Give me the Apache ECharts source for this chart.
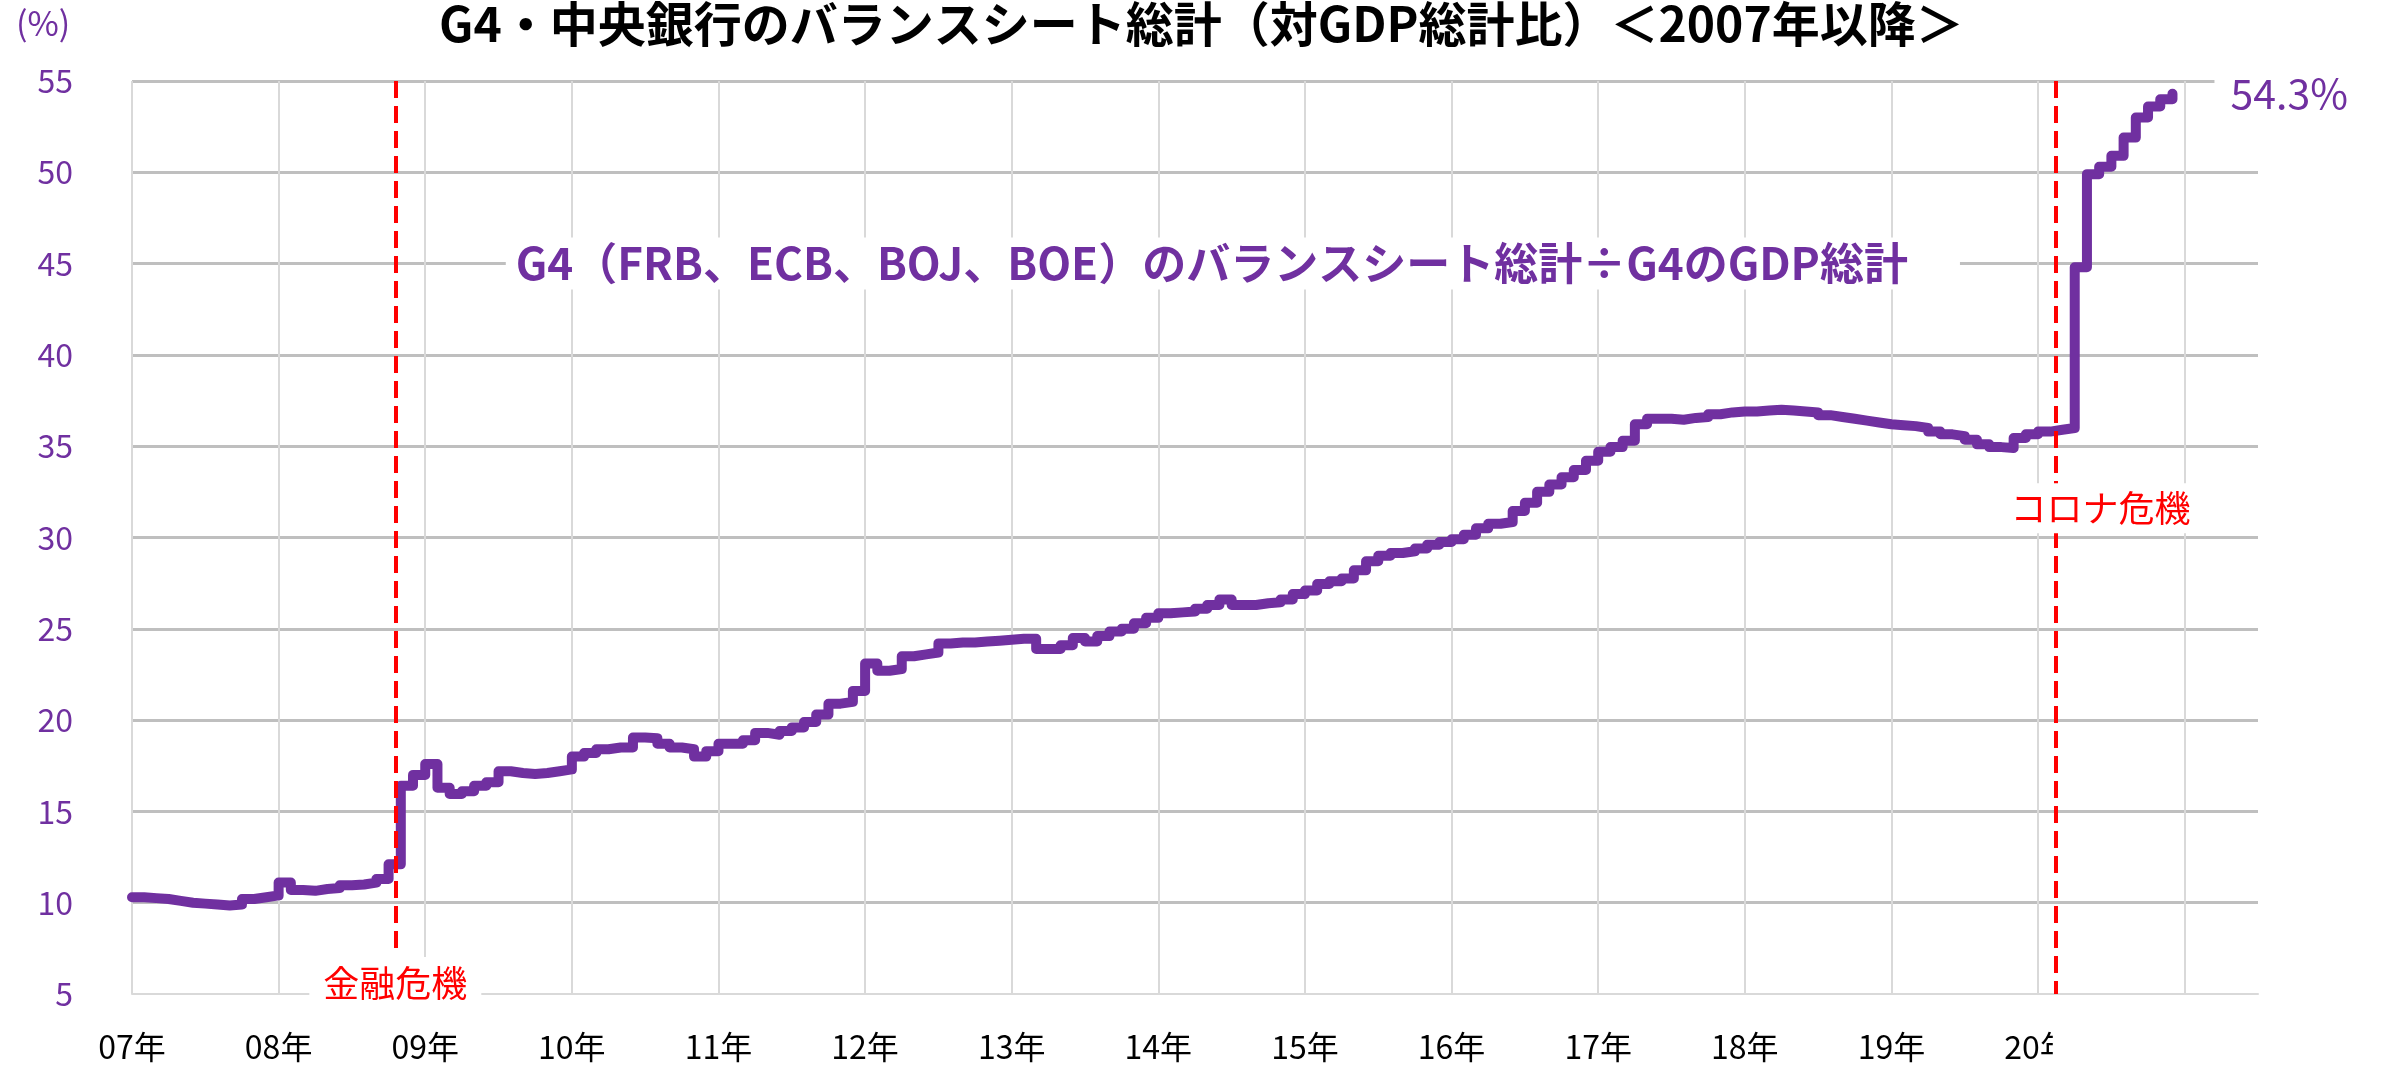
<!DOCTYPE html>
<html>
<head>
<meta charset="utf-8">
<title>G4 中央銀行のバランスシート総計</title>
<script src="https://cdn.jsdelivr.net/npm/echarts@6/dist/echarts.min.js"></script>
<style>
  html, body { margin: 0; padding: 0; background: #fff; }
  #chart { width: 2384px; height: 1067px; }
</style>
</head>
<body>
<div id="chart"></div>
<script>
// 月次データ（2007年1月～2020年12月、対GDP比 %）
var yearLabels = ["07年", "08年", "09年", "10年", "11年", "12年", "13年", "14年",
  "15年", "16年", "17年", "18年", "19年", "20年", "21年"];

var r2007 = [10.3, 10.25, 10.2, 10.1, 10.0, 9.95, 9.9, 9.85, 9.9, 10.2, 10.3, 10.4];
var r2008 = [11.1, 10.7, 10.65, 10.75, 10.8, 10.95, 11.0, 11.1, 11.3, 12.1, 16.4, 17.0];
var r2009 = [17.6, 16.3, 15.95, 16.1, 16.4, 16.6, 17.2, 17.1, 17.05, 17.1, 17.2, 17.3];
var r2010 = [18.0, 18.2, 18.4, 18.5, 18.5, 19.05, 19.0, 18.7, 18.5, 18.4, 18.0, 18.3];
var r2011 = [18.7, 18.7, 18.9, 19.3, 19.2, 19.4, 19.6, 19.9, 20.3, 20.9, 21.0, 21.6];
var r2012 = [23.1, 22.7, 22.8, 23.5, 23.6, 23.7, 24.2, 24.25, 24.25, 24.3, 24.35, 24.4];
var r2013 = [24.45, 24.45, 23.9, 23.9, 24.1, 24.5, 24.3, 24.6, 24.85, 25.0, 25.3, 25.6];
var r2014 = [25.85, 25.9, 25.95, 26.1, 26.3, 26.6, 26.3, 26.3, 26.4, 26.45, 26.6, 26.9];
var r2015 = [27.1, 27.45, 27.6, 27.75, 28.2, 28.7, 29.0, 29.15, 29.25, 29.4, 29.6, 29.75];
var r2016 = [29.9, 30.15, 30.5, 30.75, 30.85, 31.45, 31.9, 32.5, 32.9, 33.3, 33.7, 34.2];
var r2017 = [34.7, 34.95, 35.3, 36.2, 36.5, 36.5, 36.45, 36.55, 36.6, 36.75, 36.85, 36.9];
var r2018 = [36.9, 36.95, 37.0, 36.95, 36.9, 36.85, 36.7, 36.6, 36.5, 36.4, 36.3, 36.2];
var r2019 = [36.15, 36.1, 36.0, 35.8, 35.65, 35.55, 35.35, 35.1, 34.95, 34.9, 35.45, 35.65];
var r2020 = [35.8, 35.9, 36.0, 44.8, 49.9, 50.3, 50.9, 51.9, 53.0, 53.6, 54.0, 54.3];

var ratio = [].concat(r2007, r2008, r2009, r2010, r2011, r2012, r2013,
  r2014, r2015, r2016, r2017, r2018, r2019, r2020);

// イベント（2007年1月からの月数）
var lehmanMonth = 21.55;
var coronaMonth = 157.45;

var titleText = "G4・中央銀行のバランスシート総計（対GDP総計比）＜2007年以降＞";
var noteText = "G4（FRB、ECB、BOJ、BOE）のバランスシート総計÷G4のGDP総計";

var purple = "#7030A0";
var red = "#FF0000";
var jp = "'Noto Sans CJK JP', sans-serif";

var myChart = echarts.init(document.getElementById("chart"));

var option = {
  animation: false,
  backgroundColor: "#fff",
  title: [
    {
      text: titleText,
      left: 439,
      top: 0,
      padding: 0,
      textStyle: { fontFamily: jp, fontSize: 48, fontWeight: "bold", color: "#000" },
    },
    {
      text: "(%)",
      left: 16,
      top: 6,
      padding: 0,
      textStyle: { fontFamily: jp, fontSize: 34, fontWeight: "normal", color: purple },
    },
  ],
  grid: { left: 132, right: 126, top: 81, bottom: 73, outerBoundsMode: "none" },
  xAxis: {
    type: "value",
    min: 0,
    max: 174,
    interval: 12,
    axisLine: { show: true, onZero: false, lineStyle: { color: "#D9D9D9", width: 2 } },
    axisTick: { show: false },
    axisLabel: {
      margin: 37,
      color: "#000",
      fontFamily: jp,
      fontSize: 32,
      formatter: function (v) {
        return v % 12 === 0 ? yearLabels[v / 12] : "";
      },
    },
    splitLine: { show: true, showMaxLine: false, lineStyle: { color: "#D9D9D9", width: 2 } },
  },
  yAxis: {
    type: "value",
    min: 5,
    max: 55,
    interval: 5,
    axisLine: { show: false },
    axisTick: { show: false },
    axisLabel: { margin: 59, color: purple, fontFamily: jp, fontSize: 32 },
    splitLine: { show: true, showMinLine: false, lineStyle: { color: "#BFBFBF", width: 3 } },
  },
  series: [
    {
      name: "G4",
      type: "line",
      step: "end",
      symbol: "none",
      z: 2,
      lineStyle: { color: purple, width: 10, cap: "round", join: "round" },
      data: ratio.map(function (v, i) { return [i, v]; }),
      endLabel: {
        show: true,
        distance: 42,
        color: purple,
        fontFamily: jp,
        fontSize: 41,
        backgroundColor: "#fff",
        padding: [2, 8, 2, 16],
        formatter: function (p) { return p.value[1] + "%"; },
      },
      markLine: {
        silent: true,
        z: 4,
        symbol: ["none", "none"],
        label: { show: false },
        lineStyle: { color: red, width: 4, type: [17, 8] },
        data: [
          [{ coord: [lehmanMonth, 55] }, { coord: [lehmanMonth, 7.2] }],
          [{ coord: [coronaMonth, 55] }, { coord: [coronaMonth, 5] }],
        ],
      },
      markPoint: {
        silent: true,
        z: 10,
        symbol: "circle",
        symbolSize: 1,
        itemStyle: { color: "transparent" },
        data: [
          {
            name: noteText,
            coord: [90.1, 45],
            label: {
              show: true, position: "inside", formatter: "{b}",
              color: purple, fontFamily: jp, fontSize: 44, fontWeight: "bold",
              backgroundColor: "#fff", padding: [4, 52, 4, 10],
            },
          },
          {
            name: "金融危機",
            coord: [lehmanMonth, 5.6],
            label: {
              show: true, position: "inside", formatter: "{b}",
              color: red, fontFamily: jp, fontSize: 36,
              backgroundColor: "#fff", padding: [8, 14],
            },
          },
          {
            name: "コロナ危機",
            coord: [161.1, 31.6],
            label: {
              show: true, position: "inside", formatter: "{b}",
              color: red, fontFamily: jp, fontSize: 36,
              backgroundColor: "#fff", padding: [7, 10],
            },
          },
        ],
      },
    },
  ],
};

myChart.setOption(option);

// 「20年」ラベルの右側を隠す（元図の白い枠）
var cut = myChart.convertToPixel({ gridIndex: 0 }, [coronaMonth, 5]);
myChart.setOption({
  graphic: [
    {
      type: "rect",
      z: 100,
      shape: { x: cut[0] - 3, y: cut[1] + 8, width: 400, height: 100 },
      style: { fill: "#fff" },
    },
  ],
});
</script>
</body>
</html>
